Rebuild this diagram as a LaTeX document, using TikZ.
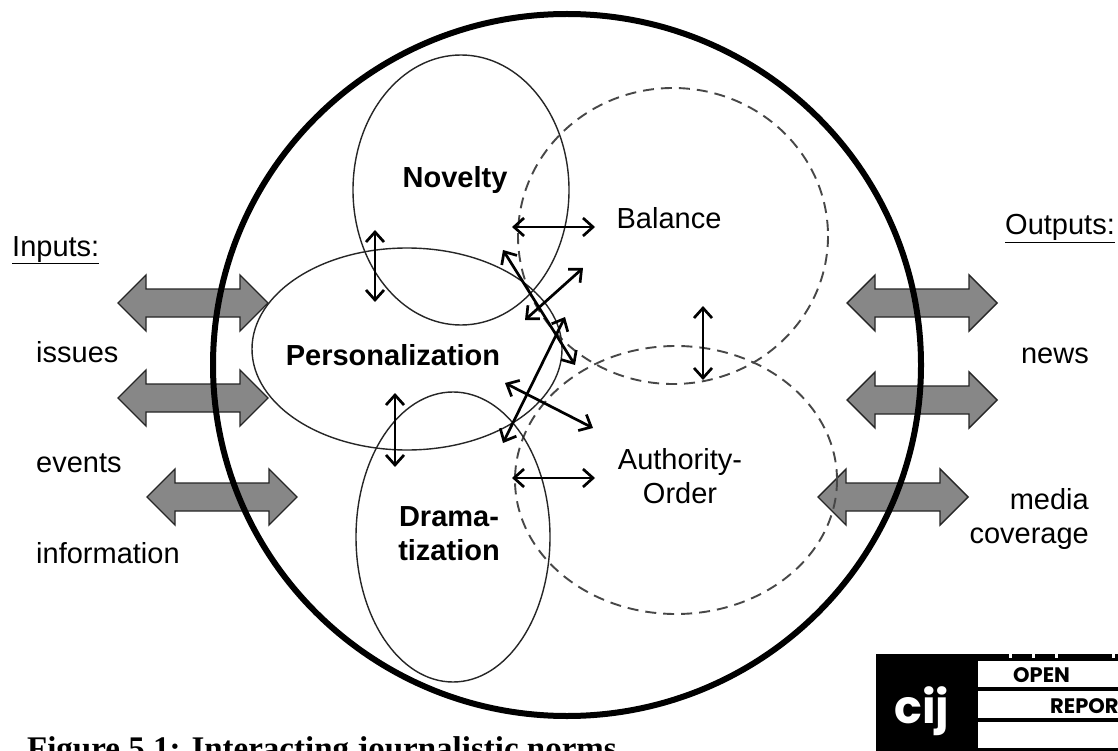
\documentclass[tikz,border=0pt]{standalone}
\usepackage{fontspec}
\setmainfont{Liberation Sans}
\newfontfamily\capfont{Liberation Serif}
\newfontfamily\logofont{Poppins}
\usepackage{tkz-euclide}
\usetikzlibrary{arrows.meta}

\tikzset{
  normline/.style={draw=black!85,line width=1.4pt},
  normdash/.style={draw=black!72,line width=1.9pt,dash pattern=on 11pt off 7pt},
  normlink/.style={line width=2.7pt,<->,>={Straight Barb[length=10pt,width=18pt]}},
  lbl/.style={inner sep=0pt,font=\fontsize{29}{34}\selectfont},
  lblb/.style={inner sep=0pt,font=\fontsize{29}{34}\selectfont\bfseries},
  pics/flow/.style={code={
    \draw[fill=black!47,draw=black!85,line width=1.4pt,line join=miter]
      (-75,0) -- (-47,-28) -- (-47,-14) -- (47,-14) -- (47,-28) -- (75,0)
      -- (47,28) -- (47,14) -- (-47,14) -- (-47,28) -- cycle;}}
}

\begin{document}
\begin{tikzpicture}[x=1pt,y=-1pt,line join=round]
    \useasboundingbox (0,0) rectangle (1118,751);
    \clip (0,0) rectangle (1118,751);
    \fill[white] (0,0) rectangle (1118,751);
    % inputs and outputs
    \pic at (193,303) {flow};
    \pic at (193,398) {flow};
    \pic at (222,497) {flow};
    \pic at (922,303) {flow};
    \pic at (922,400) {flow};
    \pic at (893,497) {flow};
    % norms
    \draw[normdash] (673,236) ellipse [x radius=155,y radius=148];
    \draw[normdash] (676,480) ellipse [x radius=161,y radius=134];
    \draw[normline] (461,190) ellipse [x radius=108,y radius=135];
    \draw[normline] (407,349) ellipse [x radius=155,y radius=101];
    \draw[normline] (453,537) ellipse [x radius=97,y radius=145];
    \draw[line width=6pt] (567,365) ellipse [x radius=354,y radius=351];
    % interactions
    \tkzDefPoints{512/227/N1,595/227/B1,375/230/N2,375/302/P1}
    \tkzDefPoints{395/393/P2,395/467/D1,703/306/B2,703/380/A1}
    \tkzDefPoints{512/478/D2,595/478/A2,503/250/P3,575/365/A3}
    \tkzDefPoints{525/320/P4,583/268/B3,565/317/B4,503/443/D3}
    \tkzDefPoints{505/383/P5,593/428/A4}
    \tkzDrawSegments[normlink](N1,B1 N2,P1 P2,D1 B2,A1 D2,A2)
    \tkzDrawSegments[normlink](P3,A3 P4,B3 B4,D3 P5,A4)
    % labels
    \node[lblb,anchor=base] (novelty) at (455,188) {Novelty};
    \node[lblb,anchor=base] (pers) at (393,365) {Personalization};
    \node[lblb,align=center] (drama) at (449,534) {Drama-\\tization};
    \node[lbl,anchor=base] (balance) at (669,229) {Balance};
    \node[lbl,align=center] (auth) at (680,476) {Authority-\\Order};
    \node[lbl,anchor=base west] (inputs) at (12,256) {\underline{Inputs:}};
    \node[lbl,anchor=base west] (issues) at (36,362) {issues};
    \node[lbl,anchor=base west] (events) at (36,472) {events};
    \node[lbl,anchor=base west] (info) at (36,563) {information};
    \node[lbl,anchor=base west] (outputs) at (1005,235) {\underline{Outputs:}};
    \node[lbl,anchor=base east] (news) at (1089,363) {news};
    \node[lbl,align=right,anchor=east] (media) at (1089,519) {media\\coverage};
    % caption and logo
    \node[inner sep=0pt,anchor=base east,font=\capfont\bfseries\fontsize{33}{38}\selectfont]
      (caption) at (617,759) {Figure 5.1: Interacting journalistic norms};
    \fill[black] (876,654) rectangle (1118,751);
    \fill[white] (978,661) rectangle (1118,687);
    \fill[white] (978,691) rectangle (1118,718);
    \fill[white] (978,722) rectangle (1118,748);
    \foreach \t in {1009,1032,1055,1112}
      \fill[white] (\t,654) rectangle (\t+3,658);
    \node[inner sep=0pt,anchor=base,text=white,font=\logofont\bfseries\fontsize{46}{46}\selectfont]
      (cij) at (922,723) {cij};
    \node[inner sep=0pt,anchor=base west,font=\logofont\bfseries\fontsize{21}{21}\selectfont]
      (open) at (1013,682) {OPEN};
    \node[inner sep=0pt,anchor=base west,font=\logofont\bfseries\fontsize{21}{21}\selectfont]
      (report) at (1050,713) {REPOR};
\end{tikzpicture}
\end{document}
